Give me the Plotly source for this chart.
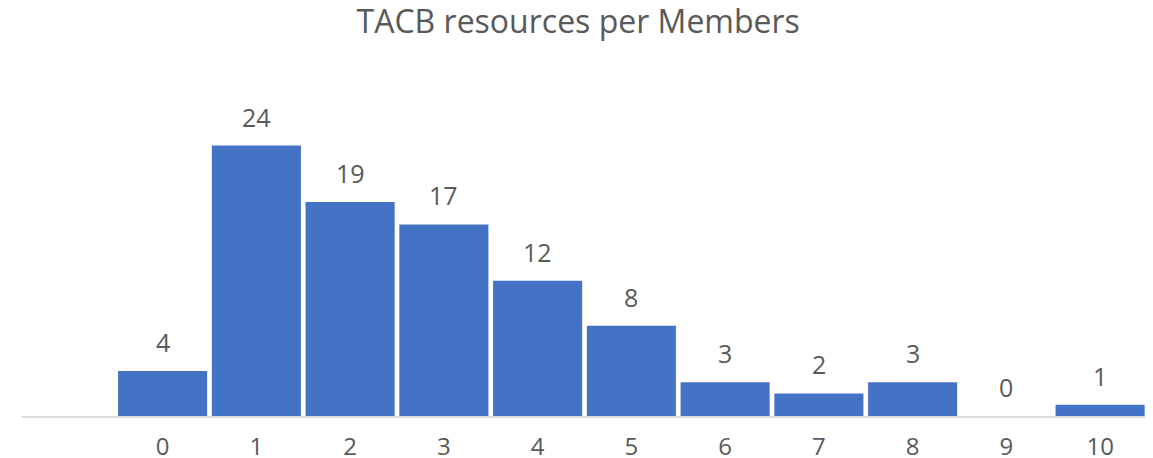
import plotly.graph_objects as go

title = "TACB resources per Members"
categories = [0, 1, 2, 3, 4, 5, 6, 7, 8, 9, 10]
values = [4, 24, 19, 17, 12, 8, 3, 2, 3, 0, 1]

BAR = "#4472C4"
TXT = "#595959"
FONT = "'Open Sans', sans-serif"

fig = go.Figure()
fig.add_trace(go.Bar(x=categories, y=values, marker=dict(color=BAR, line=dict(width=0)),
                     hoverinfo="x+y"))

for c, v in zip(categories, values):
    fig.add_annotation(x=c, y=v, text=str(v), showarrow=False, yanchor="bottom",
                       yshift=10, font=dict(family=FONT, size=25, color=TXT))

# The page body adds an 8px margin, so the figure is sized 1145x450 to fit the window.
fig.update_layout(
    width=1145, height=450,
    margin=dict(l=14, r=6, t=70, b=42, autoexpand=False),
    paper_bgcolor="white", plot_bgcolor="white",
    bargap=0.05,
    showlegend=False,
    title=dict(text=title, x=0.498, xanchor="center", y=0.97, yanchor="middle",
               font=dict(family=FONT, size=32, color=TXT)),
    xaxis=dict(range=[-1.5, 10.5], tickvals=categories, ticktext=[str(c) for c in categories],
               showline=True, linecolor="#D9D9D9", linewidth=1.5, showgrid=False,
               zeroline=False, ticks="", ticklabelstandoff=8, automargin=False,
               tickfont=dict(family=FONT, size=24, color=TXT)),
    yaxis=dict(range=[0, 30], visible=False, showgrid=False, zeroline=False, automargin=False),
)

fig.write_html("out.html")
